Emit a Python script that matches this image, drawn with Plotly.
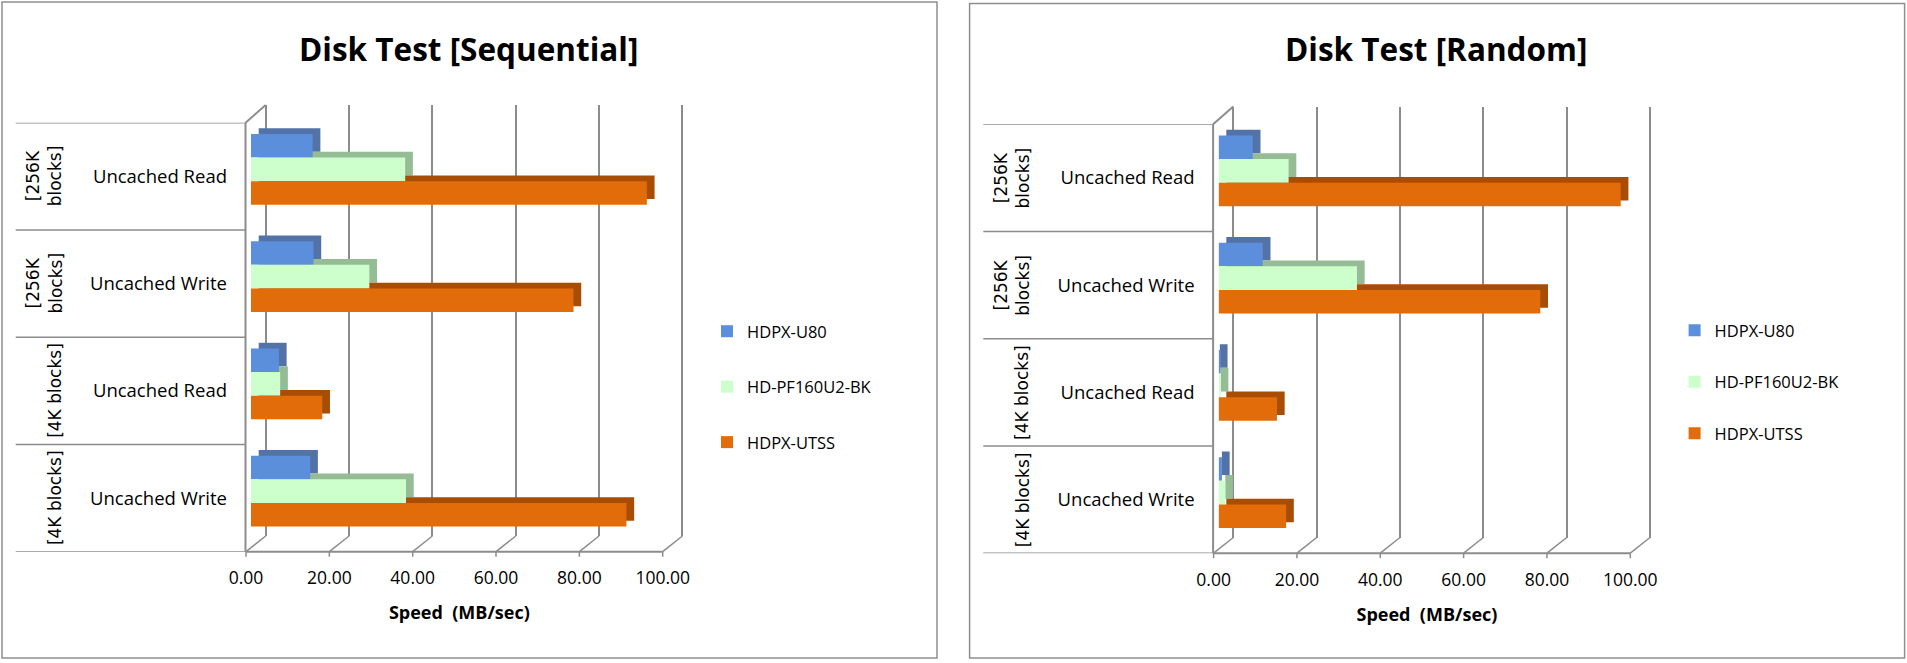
import plotly.graph_objects as go

# rows of both charts, top to bottom
row_ids = ["256K read", "256K write", "4K read", "4K write"]
block_labels = ["[256K<br>blocks]", "[256K<br>blocks]", "[4K blocks]", "[4K blocks]"]
test_labels = ["Uncached Read", "Uncached Write", "Uncached Read", "Uncached Write"]

series_names = ["HDPX-U80", "HD-PF160U2-BK", "HDPX-UTSS"]

# speed in MB/sec, sequential test
seq_u80 = [14.8, 15.0, 6.7, 14.2]
seq_pf160 = [37.0, 28.4, 7.0, 37.2]
seq_utss = [95.0, 77.4, 17.1, 90.1]

# speed in MB/sec, random test
rnd_u80 = [8.2, 10.6, 0.3, 0.8]
rnd_pf160 = [16.8, 33.2, 0.5, 1.6]
rnd_utss = [96.5, 77.2, 14.0, 16.2]

speed_ticks = [0, 20, 40, 60, 80, 100]

front_colors = ["#5b8fdb", "#ccffcc", "#e36c0a"]
depth_colors = ["#5272a8", "#95bc95", "#a84d06"]

W, H = 1907, 663
FONT = "Open Sans, Lato, sans-serif"
GRID = "#8c8c8c"


def px(x):
    return x / W


def py(y):
    return 1 - y / H


charts = [
    dict(title="Disk Test [Sequential]", series=[seq_u80, seq_pf160, seq_utss],
         dx=0, dy=0, gap=31, leg_top=314),
    dict(title="Disk Test [Random]", series=[rnd_u80, rnd_pf160, rnd_utss],
         dx=967.6, dy=1.5, gap=27, leg_top=313),
]

bar_w = 0.22          # category units
first_off = -0.395
depth_dy = 0.053      # category units
depth_dx = 1.85       # MB/sec
scale = 416.7 / 100   # px per MB/sec

fig = go.Figure()
layout_axes = {}
shapes = []
annotations = []

for c, ch in enumerate(charts):
    dx, dy = ch["dx"], ch["dy"]
    back_x = "x" if c == 0 else "x3"
    back_y = "y" if c == 0 else "y3"
    bar_x, bar_y = "x%d" % (2 * c + 2), "y%d" % (2 * c + 2)
    leg = "legend" if c == 0 else "legend2"

    # geometry in pixels
    front_left = 246 + dx
    bar_left = 251 + dx
    back_left = 265.7 + dx
    row_top = 122.7 + dy
    row_bot = 551.7 + dy
    back_top = 105 + dy
    back_bot = 536 + dy

    # back wall, only carries the grid
    fig.add_trace(go.Scatter(x=[None], y=[None], xaxis=back_x, yaxis=back_y,
                             showlegend=False, hoverinfo="skip"))
    # depth faces of the bars (top and right side)
    for i, vals in enumerate(ch["series"]):
        starts = [min(v, depth_dx) for v in vals]
        fig.add_trace(go.Bar(
            x=[v + depth_dx - s for v, s in zip(vals, starts)], y=row_ids,
            base=starts, orientation="h",
            width=bar_w, offset=first_off + i * bar_w - depth_dy,
            marker=dict(color=depth_colors[i], line=dict(width=0)),
            xaxis=bar_x, yaxis=bar_y, showlegend=False,
            legendgroup="c%ds%d" % (c, i), hoverinfo="skip"))
    # front faces
    for i, vals in enumerate(ch["series"]):
        fig.add_trace(go.Bar(
            x=vals, y=row_ids, orientation="h", name=series_names[i],
            width=bar_w, offset=first_off + i * bar_w,
            marker=dict(color=front_colors[i], line=dict(width=0)),
            xaxis=bar_x, yaxis=bar_y, legend=leg,
            legendgroup="c%ds%d" % (c, i)))

    bx = "xaxis" if c == 0 else "xaxis3"
    by = "yaxis" if c == 0 else "yaxis3"
    layout_axes[bx] = dict(
        domain=[px(back_left - scale), px(back_left + 101 * scale)],
        range=[-1, 101], anchor=back_y, tickvals=speed_ticks,
        showgrid=True, gridcolor=GRID, gridwidth=2, zeroline=False,
        showticklabels=False, showline=False, automargin=False, fixedrange=True)
    layout_axes[by] = dict(
        domain=[py(back_bot), py(back_top)], range=[0, 1], anchor=back_x,
        showgrid=False, zeroline=False, showticklabels=False,
        automargin=False, fixedrange=True)
    layout_axes["xaxis%d" % (2 * c + 2)] = dict(
        domain=[px(bar_left), px(bar_left + 100 * scale)],
        range=[0, 100], anchor=bar_y, tickvals=speed_ticks, tickformat=".2f",
        ticklabelshift=-5, ticklabelstandoff=14, showgrid=False,
        zeroline=False, showline=False, automargin=False,
        tickfont=dict(family=FONT, size=17.5, color="#000000"),
        title=dict(text="Speed\u00a0 (MB/sec)", standoff=18,
                   font=dict(family=FONT, size=18, color="#000000",
                             weight="bold")),
        fixedrange=True)
    layout_axes["yaxis%d" % (2 * c + 2)] = dict(
        domain=[py(row_bot), py(row_top)], anchor=bar_x, type="category",
        categoryarray=row_ids, range=[len(row_ids) - 0.5, -0.5],
        tickvals=row_ids, ticktext=test_labels, ticklabelstandoff=23,
        showgrid=False, zeroline=False, showline=False, automargin=False,
        tickfont=dict(family=FONT, size=18.5, color="#000000"),
        fixedrange=True)

    # chart frame
    shapes.append(dict(type="rect", xref="paper", yref="paper",
                       x0=px(2 + dx), x1=px(937 + dx), y0=py(658), y1=py(2 + dy),
                       line=dict(color="#8e8e8e", width=1.5)))
    # row dividers in the label area
    for k in range(len(row_ids) + 1):
        shapes.append(dict(type="line", xref="paper", yref=bar_y,
                           x0=px(15.7 + dx), x1=px(front_left - 0.5),
                           y0=k - 0.5, y1=k - 0.5,
                           line=dict(color=GRID, width=1.5)))
    # left wall edges
    shapes.append(dict(type="line", xref="paper", yref="paper",
                       x0=px(front_left - 0.5), x1=px(front_left - 0.5),
                       y0=py(row_top), y1=py(row_bot),
                       line=dict(color=GRID, width=2)))
    shapes.append(dict(type="line", xref="paper", yref="paper",
                       x0=px(front_left - 0.5), x1=px(back_left),
                       y0=py(row_top), y1=py(back_top),
                       line=dict(color=GRID, width=2)))
    # floor
    shapes.append(dict(type="line", xref="paper", yref="paper",
                       x0=px(front_left), x1=px(front_left + 100 * scale),
                       y0=py(row_bot), y1=py(row_bot),
                       line=dict(color=GRID, width=2)))
    for v in speed_ticks:
        fx = front_left + v * scale
        bkx = back_left + v * scale
        shapes.append(dict(type="line", xref="paper", yref="paper",
                           x0=px(fx), x1=px(bkx), y0=py(row_bot), y1=py(back_bot),
                           line=dict(color=GRID, width=1.5)))
        shapes.append(dict(type="line", xref="paper", yref="paper",
                           x0=px(fx), x1=px(fx), y0=py(row_bot), y1=py(row_bot + 5),
                           line=dict(color=GRID, width=1.5)))

    annotations.append(dict(text=ch["title"], xref="paper", yref="paper",
                            x=px(468 + dx), y=py(49), showarrow=False,
                            xanchor="center", yanchor="middle",
                            font=dict(family=FONT, size=31.5, color="#000000",
                                      weight="bold")))
    for k, lab in enumerate(block_labels):
        annotations.append(dict(text=lab, xref="paper", yref=bar_y,
                                x=px(67 + dx), y=row_ids[k], xanchor="right",
                                yanchor="middle", textangle=-90, showarrow=False,
                                font=dict(family="DejaVu Sans", size=17,
                                          color="#000000")))

legend_style = dict(xanchor="left", yanchor="top", bgcolor="rgba(0,0,0,0)",
                    font=dict(family=FONT, size=16.5, color="#000000"),
                    itemclick=False, itemdoubleclick=False)

fig.update_layout(
    width=W, height=H,
    margin=dict(l=0, r=0, t=0, b=0, autoexpand=False),
    paper_bgcolor="#ffffff", plot_bgcolor="rgba(0,0,0,0)",
    barmode="overlay",
    legend=dict(x=px(707), y=py(charts[0]["leg_top"]),
                tracegroupgap=charts[0]["gap"], **legend_style),
    legend2=dict(x=px(707 + charts[1]["dx"]), y=py(charts[1]["leg_top"]),
                 tracegroupgap=charts[1]["gap"], **legend_style),
    shapes=shapes, annotations=annotations,
    **layout_axes,
)

fig.write_html("out.html", config={"displayModeBar": False},
               post_script="document.body.style.margin='0';")
